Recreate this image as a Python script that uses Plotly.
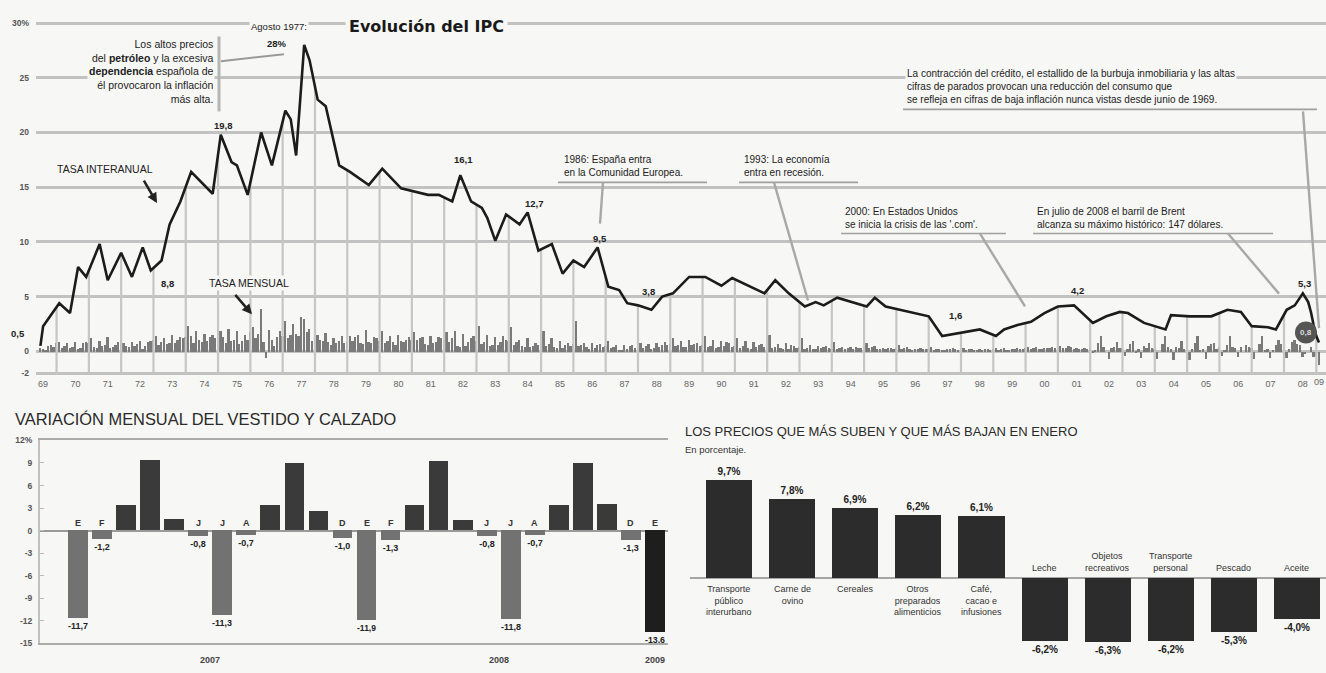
import numpy as np
import plotly.graph_objects as go

W, H = 1326, 673
BG = "#f7f7f5"
SANS = "Liberation Sans, Arial, sans-serif"
NARROW = "Liberation Sans Narrow, Liberation Sans, Arial, sans-serif"
INK = "#222222"

# ---------------- DATA: Evolución del IPC ----------------
interanual_meses = [
    "1969-06", "1969-07", "1970-01", "1970-05", "1970-08", "1970-11", "1971-04", "1971-07",
    "1971-12", "1972-04", "1972-08", "1972-11", "1973-03", "1973-06", "1973-10", "1974-02",
    "1974-10", "1975-01", "1975-05", "1975-07", "1975-11", "1976-04", "1976-08", "1977-01",
    "1977-03", "1977-05", "1977-08", "1977-10", "1978-01", "1978-04", "1978-09", "1979-01",
    "1979-08", "1980-01", "1980-08", "1981-06", "1981-10", "1982-03", "1982-06", "1982-10",
    "1983-02", "1983-04", "1983-07", "1983-11", "1984-04", "1984-07", "1984-11", "1985-04",
    "1985-08", "1985-12", "1986-04", "1986-09", "1987-01", "1987-05", "1987-08", "1987-12",
    "1988-05", "1988-09", "1989-01", "1989-07", "1990-01", "1990-07", "1990-11", "1991-06",
    "1991-11", "1992-03", "1992-08", "1993-02", "1993-06", "1993-09", "1994-02", "1995-01",
    "1995-04", "1995-08", "1996-01", "1996-07", "1996-12", "1997-05", "1997-10", "1998-03",
    "1998-07", "1999-01", "1999-04", "1999-09", "2000-02", "2000-07", "2000-12", "2001-06",
    "2002-01", "2002-06", "2002-11", "2003-02", "2003-08", "2004-04", "2004-06", "2005-01",
    "2005-09", "2006-03", "2006-08", "2006-12", "2007-06", "2007-09", "2008-01", "2008-04",
    "2008-07", "2008-09", "2008-10", "2008-11", "2008-12", "2009-01",
]
interanual_valores = [
    0.5, 2.3, 4.4, 3.5, 7.7, 6.8, 9.8, 6.5,
    9.0, 6.8, 9.5, 7.4, 8.3, 11.6, 13.7, 16.4,
    14.4, 19.8, 17.3, 17.0, 14.3, 20.0, 17.0, 22.0,
    21.2, 17.9, 28.0, 26.6, 23.0, 22.4, 17.0, 16.4,
    15.2, 16.7, 14.9, 14.3, 14.3, 13.7, 16.1, 13.7,
    13.1, 12.2, 10.1, 12.5, 11.6, 12.7, 9.2, 9.8,
    7.1, 8.3, 7.7, 9.5, 5.9, 5.6, 4.4, 4.2,
    3.8, 5.0, 5.3, 6.8, 6.8, 6.0, 6.7, 5.9,
    5.3, 6.5, 5.3, 4.1, 4.5, 4.2, 4.9, 4.1,
    4.9, 4.1, 3.8, 3.5, 3.2, 1.4, 1.6, 1.8,
    2.0, 1.4, 2.0, 2.4, 2.7, 3.5, 4.1, 4.2,
    2.6, 3.2, 3.6, 3.5, 2.6, 2.0, 3.3, 3.2,
    3.2, 3.8, 3.6, 2.3, 2.2, 2.0, 3.8, 4.2,
    5.3, 4.5, 3.6, 2.4, 1.4, 0.8,
]

# Tasa mensual, from 1969-06 to 2009-01
mensual_inicio = "1969-06"
mensual_valores = [
    0.3, 0.2, 0.1, 0.5, 0.6, 0.4, 0.8,                                   # 1969 (jun-dic)
    0.9, 0.3, 0.5, 0.8, 0.3, 0.4, 0.9, 0.2, 0.3, 0.8, 0.9, 0.8,          # 1970
    1.2, 0.4, 0.3, 1.0, 0.5, 0.6, 1.3, 0.3, 0.4, 0.6, 0.9, 1.1,          # 1971
    0.8, 0.5, 0.4, 0.9, 0.5, 0.7, 1.0, 0.2, 0.5, 0.9, 1.0, 1.1,          # 1972
    1.4, 0.6, 0.9, 1.2, 0.7, 0.8, 1.5, 0.8, 1.1, 1.3, 1.2, 1.3,          # 1973
    2.3, 1.4, 0.8, 1.9, 1.1, 0.9, 1.6, 1.0, 1.3, 1.5, 1.2, 1.6,          # 1974
    1.9, 1.3, 0.8, 2.1, 1.0, 1.1, 1.9, 0.7, 1.0, 1.5, 1.1, 1.8,          # 1975
    2.2, 1.2, 1.6, 3.9, 0.9, -0.6, 2.0, 1.1, 0.5, 1.3, 1.9, 1.4,         # 1976
    2.8, 1.2, 1.5, 2.5, 1.6, 1.4, 3.2, 3.0, 1.8, 2.1, 1.0, 0.9,          # 1977
    1.5, 1.1, 1.0, 1.7, 0.9, 0.6, 1.2, 0.8, 1.0, 1.4, 0.8, 0.9,          # 1978
    1.4, 1.0, 1.3, 1.5, 0.8, 0.7, 2.0, 0.9, 0.8, 1.3, 1.2, 1.0,          # 1979
    1.9, 0.8, 1.0, 1.4, 0.9, 0.6, 1.5, 1.0, 0.9, 1.1, 1.3, 1.1,          # 1980
    1.8, 1.1, 1.2, 1.3, 0.7, 0.6, 1.4, 0.8, 0.9, 1.3, 1.2, 1.1,          # 1981
    1.8, 0.9, 1.2, 1.9, 0.5, 0.4, 1.6, 0.5, 0.9, 1.2, 1.4, 1.0,          # 1982
    2.3, 0.7, 0.9, 1.5, 0.5, 0.6, 1.3, 0.6, 0.9, 1.4, 1.1, 1.0,          # 1983
    2.2, 0.6, 0.9, 1.1, 0.5, 0.4, 1.2, 0.4, 0.5, 0.8, 0.6, 0.8,          # 1984
    1.9, 0.5, 0.7, 1.2, 0.4, 0.3, 1.0, 0.3, 0.6, 0.8, 0.5, 0.7,          # 1985
    2.8, 0.5, 0.6, 0.8, 0.4, 0.2, 0.8, 0.3, 0.6, 0.7, 0.4, 0.5,          # 1986
    1.0, 0.3, 0.4, 0.6, 0.1, 0.1, 0.6, 0.2, 0.5, 0.6, 0.3, 0.3,          # 1987
    0.8, 0.3, 0.5, 0.7, 0.2, 0.3, 0.8, 0.4, 0.6, 0.9, 0.6, 0.7,          # 1988
    1.2, 0.5, 0.6, 1.0, 0.4, 0.4, 1.1, 0.6, 0.7, 0.8, 0.5, 0.6,          # 1989
    1.4, 0.4, 0.5, 1.1, 0.3, 0.4, 1.0, 0.5, 0.9, 0.8, 0.4, 0.5,          # 1990
    1.2, 0.3, 0.5, 1.0, 0.3, 0.2, 0.9, 0.4, 0.6, 0.7, 0.4, 0.6,          # 1991
    1.5, 0.3, 0.4, 0.7, 0.3, 0.2, 0.8, 0.2, 0.6, 0.5, 0.3, 0.4,          # 1992
    1.2, 0.2, 0.3, 0.6, 0.2, 0.2, 0.5, 0.3, 0.4, 0.5, 0.3, 0.2,          # 1993
    0.9, 0.2, 0.3, 0.4, 0.2, 0.3, 0.4, 0.2, 0.4, 0.3, 0.3, 0.2,          # 1994
    0.8, 0.3, 0.4, 0.5, 0.2, 0.2, 0.3, 0.2, 0.3, 0.3, 0.2, 0.3,          # 1995
    0.6, 0.2, 0.3, 0.4, 0.2, 0.1, 0.2, 0.2, 0.3, 0.2, 0.2, 0.2,          # 1996
    0.4, 0.1, 0.2, 0.2, 0.1, 0.1, 0.2, 0.2, 0.3, 0.2, 0.1, 0.2,          # 1997
    0.3, 0.1, 0.2, 0.2, 0.1, 0.1, 0.2, 0.1, 0.2, 0.2, 0.1, 0.2,          # 1998
    0.3, 0.1, 0.2, 0.3, 0.1, 0.1, 0.2, 0.2, 0.3, 0.2, 0.2, 0.3,          # 1999
    0.4, 0.2, 0.3, 0.4, 0.2, 0.2, 0.3, 0.3, 0.3, 0.4, 0.3, 0.3,          # 2000
    0.5, 0.3, 0.3, 0.5, 0.4, 0.2, 0.3, 0.2, 0.2, 0.3, 0.2, 0.3,          # 2001
    -0.1, 0.1, 0.8, 1.4, 0.4, 0.0, -0.7, 0.3, 0.4, 0.9, 0.3, 0.3,        # 2002
    -0.4, 0.2, 0.7, 1.0, -0.1, 0.2, -0.6, 0.5, 0.3, 0.8, 0.3, 0.2,       # 2003
    -0.7, 0.0, 0.7, 1.4, 0.4, 0.2, -0.8, 0.4, 0.3, 1.0, 0.2, 0.2,        # 2004
    -0.8, 0.2, 0.8, 1.4, 0.1, 0.2, -0.7, 0.5, 0.7, 0.8, 0.2, 0.4,        # 2005
    -0.4, 0.1, 0.6, 1.4, 0.4, 0.3, -0.5, 0.4, 0.0, 0.6, 0.4, 0.3,        # 2006
    -0.7, 0.0, 0.7, 1.4, 0.1, 0.2, -0.6, 0.1, 0.6, 1.1, 0.7, 0.4,        # 2007
    -0.6, 0.2, 0.9, 1.1, 0.7, 0.6, -0.5, -0.2, 0.0, 0.4, -0.5, -0.4,     # 2008
    -1.2,                                                                # 2009
]

anios_etiquetas = ["69", "70", "71", "72", "73", "74", "75", "76", "77", "78",
                   "79", "80", "81", "82", "83", "84", "85", "86", "87", "88",
                   "89", "90", "91", "92", "93", "94", "95", "96", "97", "98",
                   "99", "00", "01", "02", "03", "04", "05", "06", "07", "08", "09"]
y_ticks_ipc = [-2, 0, 5, 10, 15, 20, 25, 30]
y_ticktext_ipc = ["-2", "0", "5", "10", "15", "20", "25", "30%"]

etiquetas_meses = ["1969-06", "1972-11", "1975-01", "1977-08", "1982-06", "1984-07",
                   "1986-09", "1988-05", "1997-10", "2001-06", "2008-07"]
etiquetas_textos = ["0,5", "8,8", "19,8", "28%", "16,1", "12,7",
                    "9,5", "3,8", "1,6", "4,2", "5,3"]
ultimo_texto = "0,8"

# ---------------- DATA: Vestido y calzado ----------------
vestido_meses = ["E", "F", "M", "A", "M", "J", "J", "A", "S", "O", "N", "D",
                 "E", "F", "M", "A", "M", "J", "J", "A", "S", "O", "N", "D", "E"]
vestido_valores = [-11.7, -1.2, 3.4, 9.3, 1.5, -0.8, -11.3, -0.7, 3.4, 8.9, 2.6, -1.0,
                   -11.9, -1.3, 3.3, 9.2, 1.3, -0.8, -11.8, -0.7, 3.4, 9.0, 3.5, -1.3,
                   -13.6]
vestido_anios = ["2007", "2008", "2009"]
vestido_anio_de_mes = [0] * 12 + [1] * 12 + [2]
vestido_yticks = [-15, -12, -9, -6, -3, 0, 3, 6, 9, 12]
vestido_yticktext = ["-15", "-12", "-9", "-6", "-3", "0", "3", "6", "9", "12%"]

# ---------------- DATA: Precios enero ----------------
precios_categorias = ["Transporte<br>público<br>interurbano", "Carne de<br>ovino", "Cereales",
                      "Otros<br>preparados<br>alimenticios", "Café,<br>cacao e<br>infusiones",
                      "Leche", "Objetos<br>recreativos", "Transporte<br>personal",
                      "Pescado", "Aceite"]
precios_valores = [9.7, 7.8, 6.9, 6.2, 6.1, -6.2, -6.3, -6.2, -5.3, -4.0]


# ---------------- helpers ----------------
def ym(s):
    y, m = s.split("-")
    return int(y) + (int(m) - 1) / 12.0


def px(x):
    return x / W


def py(y):
    return 1 - y / H


def coma(v, suf=""):
    return f"{v:.1f}".replace(".", ",") + suf


def anio(s):
    return (1900 if int(s) > 50 else 2000) + int(s)


t_inter = np.array([ym(s) for s in interanual_meses])
v_inter = np.array(interanual_valores)
t0 = ym(mensual_inicio)
t_mens = t0 + np.arange(len(mensual_valores)) / 12.0

fig = go.Figure()

# drop lines at each December, from the axis bottom to the curve
first_year = int(interanual_meses[0][:4])
last_year = int(interanual_meses[-1][:4])
dx, dy = [], []
for yr in range(first_year, last_year):
    tt = yr + 11 / 12
    dx += [tt, tt, None]
    dy += [y_ticks_ipc[0], float(np.interp(tt, t_inter, v_inter)), None]
fig.add_trace(go.Scatter(x=dx, y=dy, mode="lines", line=dict(color="#c6c6c6", width=2.2),
                         hoverinfo="skip", showlegend=False, xaxis="x", yaxis="y"))

# monthly bars
fig.add_trace(go.Bar(x=t_mens, y=mensual_valores, width=0.055, marker=dict(color="#7a7a7a", line=dict(width=0)),
                     showlegend=False, xaxis="x", yaxis="y"))

# annual rate line
fig.add_trace(go.Scatter(x=t_inter, y=v_inter, mode="lines", line=dict(color="#1c1c1c", width=2.6),
                         showlegend=False, xaxis="x", yaxis="y"))

# ---- vestido bars
n_v = len(vestido_valores)
col_v = []
for i, v in enumerate(vestido_valores):
    if i == n_v - 1:
        col_v.append("#1e1e1e")
    elif v < 0:
        col_v.append("#727272")
    else:
        col_v.append("#3a3a3a")
txt_v = ["<b>" + coma(v) + "</b>" if v < 0 else "" for v in vestido_valores]
fig.add_trace(go.Bar(x=list(range(n_v)), y=vestido_valores, width=0.82,
                     marker=dict(color=col_v, line=dict(width=0)),
                     text=txt_v, textposition="outside", cliponaxis=False,
                     textfont=dict(family=SANS, size=9, color=INK),
                     showlegend=False, xaxis="x2", yaxis="y2"))

# ---- precios bars
n_p = len(precios_valores)
fig.add_trace(go.Bar(x=list(range(n_p)), y=precios_valores, width=0.73,
                     marker=dict(color="#2c2c2c", line=dict(width=0)),
                     text=["<b>" + coma(v, "%") + "</b>" for v in precios_valores],
                     textposition="outside", cliponaxis=False,
                     textfont=dict(family=SANS, size=10, color=INK),
                     showlegend=False, xaxis="x3", yaxis="y3"))

ann = []
shapes = []

# data labels on the IPC curve
lab_shift = [(-22, 12), (17, -13), (3, 9), (-27, 1), (3, 16), (7, 9), (2, 9), (-3, 18), (0, 18), (3, 15), (2, 10)]
for m, txt, (xs, ys) in zip(etiquetas_meses, etiquetas_textos, lab_shift):
    tt = ym(m)
    vv = float(np.interp(tt, t_inter, v_inter))
    ann.append(dict(x=tt, y=vv, xref="x", yref="y", text="<b>" + txt + "</b>", showarrow=False,
                    xshift=xs, yshift=ys, font=dict(family=SANS, size=9.5, color=INK)))

# last value circle
shapes.append(dict(type="circle", xref="x", yref="y", xsizemode="pixel", ysizemode="pixel",
                   xanchor=float(t_inter[-1]), yanchor=float(v_inter[-1]),
                   x0=-24, x1=-2, y0=-1, y1=21, fillcolor="#555555", line=dict(width=0), layer="above"))
ann.append(dict(x=float(t_inter[-1]), y=float(v_inter[-1]), xref="x", yref="y", text="<b>" + ultimo_texto + "</b>",
                showarrow=False, xshift=-13, yshift=10, font=dict(family=SANS, size=8, color="#dddddd")))

# last year tick label squeezed at the right edge
ann.append(dict(x=1, y=py(383), xref="paper", yref="paper", xanchor="right", yanchor="middle",
                text=anios_etiquetas[-1], showarrow=False, font=dict(family=SANS, size=9, color="#666")))

# titles
ann.append(dict(x=px(345), y=py(22), xref="paper", yref="paper", xanchor="left", yanchor="middle",
                text="<b>Evolución del IPC</b>", showarrow=False, bgcolor=BG, borderpad=3,
                font=dict(family="DejaVu Sans, sans-serif", size=16, color="#1a1a1a")))
ann.append(dict(x=px(279), y=py(22), xref="paper", yref="paper", xanchor="center", yanchor="middle",
                text="Agosto 1977:", showarrow=False, bgcolor=BG,
                font=dict(family=SANS, size=9.5, color=INK)))
ann.append(dict(x=px(215), y=py(31), xref="paper", yref="paper", xanchor="right", yanchor="top", align="right",
                text="Los altos precios<br>del <b>petróleo</b> y la excesiva<br><b>dependencia</b> española de<br>"
                     "él provocaron la inflación<br>más alta.",
                showarrow=False, bgcolor=BG, font=dict(family=SANS, size=10.5, color=INK)))
shapes.append(dict(type="line", xref="paper", yref="paper", x0=px(219), y0=py(32), x1=px(219), y1=py(108),
                   line=dict(color="#b5b5b5", width=3)))
shapes.append(dict(type="line", xref="paper", yref="paper", x0=px(221), y0=py(57), x1=px(284), y1=py(50),
                   line=dict(color="#9a9a9a", width=2)))

ann.append(dict(x=px(55), y=py(166), xref="paper", yref="paper", xanchor="left", yanchor="middle",
                text="TASA INTERANUAL", showarrow=False, bgcolor=BG, font=dict(family=SANS, size=10.5, color=INK)))
ann.append(dict(x=px(157), y=py(201), xref="paper", yref="paper", text="", showarrow=True, ax=-14, ay=-24,
                arrowhead=2, arrowsize=0.8, arrowwidth=2.5, arrowcolor="#222"))
ann.append(dict(x=px(207), y=py(282), xref="paper", yref="paper", xanchor="left", yanchor="middle",
                text="TASA MENSUAL", showarrow=False, bgcolor=BG, font=dict(family=SANS, size=10.5, color=INK)))
ann.append(dict(x=px(252), y=py(314), xref="paper", yref="paper", text="", showarrow=True, ax=-18, ay=-21,
                arrowhead=2, arrowsize=0.8, arrowwidth=2.5, arrowcolor="#222"))

# event notes: (text, left px, bottom px, underline x0, x1, leader tail, leader head)
notas = [
    ("1986: España entra<br>en la Comunidad Europea.", 562, 178, 558, 707, (603, 180), (600, 222)),
    ("1993: La economía<br>entra en recesión.", 742, 178, 739, 858, (774, 180), (808, 300)),
    ("2000: En Estados Unidos<br>se inicia la crisis de las '.com'.", 843, 230, 841, 1006, (980, 232), (1025, 306)),
    ("En julio de 2008 el barril de Brent<br>alcanza su máximo histórico: 147 dólares.", 1035, 230, 1033, 1273,
     (1228, 232), (1279, 293)),
    ("La contracción del crédito, el estallido de la burbuja inmobiliaria y las altas<br>"
     "cifras de parados provocan una reducción del consumo que<br>"
     "se refleja en cifras de baja inflación nunca vistas desde junio de 1969.", 905, 104, 903, 1317,
     (1303, 108), (1319, 328)),
]
for txt, lx, by, u0, u1, tail, head in notas:
    ann.append(dict(x=px(lx), y=py(by), xref="paper", yref="paper", xanchor="left", yanchor="bottom",
                    align="left", text=txt, showarrow=False, bgcolor=BG, borderpad=1,
                    font=dict(family=SANS, size=10, color=INK)))
    shapes.append(dict(type="line", xref="paper", yref="paper", x0=px(u0), y0=py(by + 2), x1=px(u1), y1=py(by + 2),
                       line=dict(color="#a0a0a0", width=1.6)))
    shapes.append(dict(type="line", xref="paper", yref="paper", x0=px(tail[0]), y0=py(tail[1]),
                       x1=px(head[0]), y1=py(head[1]), line=dict(color="#a8a8a8", width=2.4)))

# ---- vestido annotations
ann.append(dict(x=px(13), y=py(420), xref="paper", yref="paper", xanchor="left", yanchor="middle",
                text="VARIACIÓN MENSUAL DEL VESTIDO Y CALZADO", showarrow=False,
                font=dict(family=NARROW, size=16.4, color="#2a2a2a")))
for i, (m, v) in enumerate(zip(vestido_meses, vestido_valores)):
    if v < 0:
        ann.append(dict(x=i, y=0, xref="x2", yref="y2", text="<b>" + m + "</b>", showarrow=False,
                        yanchor="bottom", yshift=1, font=dict(family=SANS, size=9, color="#333")))
for k, yr in enumerate(vestido_anios):
    idx = [i for i, a in enumerate(vestido_anio_de_mes) if a == k]
    ann.append(dict(x=float(np.mean(idx)), y=py(665), xref="x2", yref="paper", text="<b>" + yr + "</b>",
                    showarrow=False, yanchor="middle", font=dict(family=SANS, size=9, color="#444")))

# ---- precios annotations
ann.append(dict(x=px(683), y=py(433), xref="paper", yref="paper", xanchor="left", yanchor="middle",
                text="LOS PRECIOS QUE MÁS SUBEN Y QUE MÁS BAJAN EN ENERO", showarrow=False,
                font=dict(family=NARROW, size=13, color="#2a2a2a")))
ann.append(dict(x=px(683), y=py(451), xref="paper", yref="paper", xanchor="left", yanchor="middle",
                text="En porcentaje.", showarrow=False, font=dict(family=SANS, size=9.5, color="#333")))
for i, (c, v) in enumerate(zip(precios_categorias, precios_valores)):
    if v >= 0:
        ann.append(dict(x=i, y=0, xref="x3", yref="y3", text=c, showarrow=False, yanchor="top", yshift=-4,
                        align="center", font=dict(family=SANS, size=9, color="#333")))
    else:
        ann.append(dict(x=i, y=0, xref="x3", yref="y3", text=c, showarrow=False, yanchor="bottom", yshift=3,
                        align="center", font=dict(family=SANS, size=9, color="#333")))

fig.update_layout(
    width=W, height=H, paper_bgcolor=BG, plot_bgcolor="rgba(0,0,0,0)",
    margin=dict(l=0, r=0, t=0, b=0), bargap=0, showlegend=False,
    annotations=ann, shapes=shapes,
    xaxis=dict(domain=[px(36), 1], range=[1969.28, 2009.217], anchor="y",
               tickvals=[anio(s) + 0.5 for s in anios_etiquetas[:-1]],
               ticktext=anios_etiquetas[:-1], showgrid=False, zeroline=False, showline=False, ticks="",
               tickfont=dict(family=SANS, size=9, color="#666"), ticklabelstandoff=2),
    yaxis=dict(domain=[py(376), py(15)], range=[-2.2, 30.3], anchor="x",
               tickvals=y_ticks_ipc, ticktext=["<b>" + t + "</b>" for t in y_ticktext_ipc],
               showgrid=True, gridcolor="#c2c2c2", gridwidth=2.5, zeroline=False, showline=False, ticks="",
               tickfont=dict(family=SANS, size=8.5, color="#555"), ticklabelstandoff=6),
    xaxis2=dict(domain=[px(40), px(668)], range=[-1.58, 24.54], anchor="y2", showgrid=False, zeroline=False,
                showline=True, mirror=True, linecolor="#ababab", linewidth=2, ticks="", showticklabels=False),
    yaxis2=dict(domain=[py(648), py(442)], range=[-15, 12], anchor="x2", tickvals=vestido_yticks,
                ticktext=["<b>" + t + "</b>" for t in vestido_yticktext], showgrid=False,
                zeroline=True, zerolinecolor="#9a9a9a", zerolinewidth=2,
                showline=True, linecolor="#c0c0c0", linewidth=2, ticks="inside", ticklen=4, tickcolor="#bbb",
                tickfont=dict(family=SANS, size=8.5, color="#555"), ticklabelstandoff=4),
    xaxis3=dict(domain=[px(690), 1], range=[-0.62, 9.46], anchor="y3", visible=False),
    yaxis3=dict(domain=[py(660), py(470)], range=[-7.57, 10.87], anchor="x3", showgrid=False,
                zeroline=True, zerolinecolor="#a5a5a5", zerolinewidth=2, showticklabels=False, ticks="",
                showline=False),
)

fig.write_html("out.html", config={"displayModeBar": False},
               post_script="document.body.style.margin='0';document.body.style.overflow='hidden';"
                           "document.body.style.background='" + BG + "';")
